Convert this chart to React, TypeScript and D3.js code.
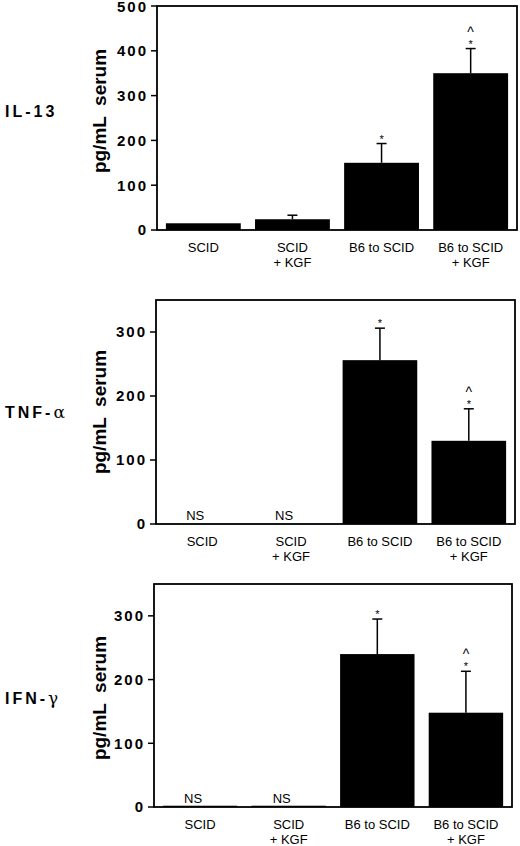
import React from 'react';
import * as d3 from 'd3';

const W = 520;
const H = 846;

const groups = ['SCID', 'SCID + KGF', 'B6 to SCID', 'B6 to SCID + KGF'];
const groupLines = [['SCID'], ['SCID', '+ KGF'], ['B6 to SCID'], ['B6 to SCID', '+ KGF']];

const il13Mean = [15, 24, 150, 350];
const il13Upper = [15, 33, 193, 405];
const il13Marks = ['', '', '*', '*^'];

const tnfMean = [0, 0, 256, 130];
const tnfUpper = [0, 0, 306, 180];
const tnfMarks = ['NS', 'NS', '*', '*^'];

const ifnMean = [2, 2, 240, 148];
const ifnUpper = [2, 2, 295, 213];
const ifnMarks = ['NS', 'NS', '*', '*^'];

const il13Ticks = [0, 100, 200, 300, 400, 500];
const cytoTicks = [0, 100, 200, 300];

const FONT = '"Liberation Sans", Arial, Helvetica, sans-serif';

type PanelProps = {
  name: React.ReactNode;
  mean: number[];
  upper: number[];
  marks: string[];
  ticks: number[];
  max: number;
  left: number;
  right: number;
  top: number;
  bottom: number;
  labelY: number;
};

const Panel: React.FC<PanelProps> = ({ name, mean, upper, marks, ticks, max, left, right, top, bottom, labelY }) => {
  const x = d3.scaleBand<string>().domain(groups).range([left, right]).paddingInner(0.16).paddingOuter(0.1);
  const y = d3.scaleLinear().domain([0, max]).range([bottom, top]);
  const bw = x.bandwidth();

  return (
    <g>
      {/* panel name */}
      <text x={5} y={labelY} dy="0.35em" fontFamily={FONT} fontWeight="bold" fontSize={16} letterSpacing={3} fill="#000">
        {name}
      </text>
      {/* y title */}
      <text
        transform={`translate(106, ${labelY}) rotate(-90)`}
        textAnchor="middle"
        fontFamily={FONT}
        fontWeight="bold"
        fontSize={19}
        fill="#000"
        style={{ whiteSpace: 'pre' }}
      >
        {'pg/mL  serum'}
      </text>

      {/* bars */}
      {groups.map((g, i) => {
        const bx = x(g)!;
        const cx = bx + bw / 2;
        const yTop = y(mean[i]);
        const yErr = y(upper[i]);
        const hasErr = upper[i] - mean[i] > 0.5;
        const m = marks[i];
        return (
          <g key={g}>
            {mean[i] > 0 && <rect x={bx} y={yTop} width={bw} height={bottom - yTop} fill="#000" />}
            {hasErr && (
              <g stroke="#000" strokeWidth={1.5}>
                <line x1={cx} x2={cx} y1={yTop} y2={yErr} />
                <line x1={cx - 5} x2={cx + 5} y1={yErr} y2={yErr} />
              </g>
            )}
            {m === 'NS' && (
              <text x={cx - 7} y={bottom - 4} textAnchor="middle" fontFamily={FONT} fontSize={13} fill="#000">
                NS
              </text>
            )}
            {m.includes('*') && (
              <text x={cx} y={yErr - 1} textAnchor="middle" fontFamily={FONT} fontSize={11} fill="#000">
                *
              </text>
            )}
            {m.includes('^') && (
              <text x={cx} y={yErr - 12} textAnchor="middle" fontFamily={FONT} fontSize={14} fill="#000">
                ^
              </text>
            )}
            {groupLines[i].map((ln, j) => (
              <text
                key={ln}
                x={cx}
                y={bottom + 22 + j * 15}
                textAnchor="middle"
                fontFamily={FONT}
                fontSize={13}
                fill="#000"
                style={{ whiteSpace: 'pre' }}
              >
                {ln}
              </text>
            ))}
          </g>
        );
      })}

      {/* frame */}
      <rect x={left} y={top} width={right - left} height={bottom - top} fill="none" stroke="#000" strokeWidth={1.8} />

      {/* y ticks */}
      {ticks.map(t => (
        <g key={t}>
          <line x1={left - 6} x2={left} y1={y(t)} y2={y(t)} stroke="#000" strokeWidth={1.5} />
          <text
            x={left - 9}
            y={Math.max(y(t), 7)}
            dy="0.36em"
            textAnchor="end"
            fontFamily={FONT}
            fontWeight="bold"
            fontSize={15}
            letterSpacing={2}
            fill="#000"
          >
            {t}
          </text>
        </g>
      ))}
    </g>
  );
};

const Greek: React.FC<{ ch: string }> = ({ ch }) => (
  <tspan fontFamily='"DejaVu Serif", "Liberation Serif", serif' fontWeight="normal" fontSize={17} letterSpacing={0}>
    {ch}
  </tspan>
);

export default function App() {
  return (
    <svg width={W} height={H} style={{ position: 'absolute', left: 0, top: 0, background: '#fff' }}>
      <rect width={W} height={H} fill="#fff" />
      <Panel
        name="IL-13"
        mean={il13Mean}
        upper={il13Upper}
        marks={il13Marks}
        ticks={il13Ticks}
        max={500}
        left={157}
        right={517}
        top={6}
        bottom={230}
        labelY={111}
      />
      <Panel
        name={<>TNF-<Greek ch="α" /></>}
        mean={tnfMean}
        upper={tnfUpper}
        marks={tnfMarks}
        ticks={cytoTicks}
        max={350}
        left={156}
        right={515}
        top={300}
        bottom={524}
        labelY={412}
      />
      <Panel
        name={<>IFN-<Greek ch="γ" /></>}
        mean={ifnMean}
        upper={ifnUpper}
        marks={ifnMarks}
        ticks={cytoTicks}
        max={350}
        left={154}
        right={512}
        top={584}
        bottom={807}
        labelY={698}
      />
    </svg>
  );
}
